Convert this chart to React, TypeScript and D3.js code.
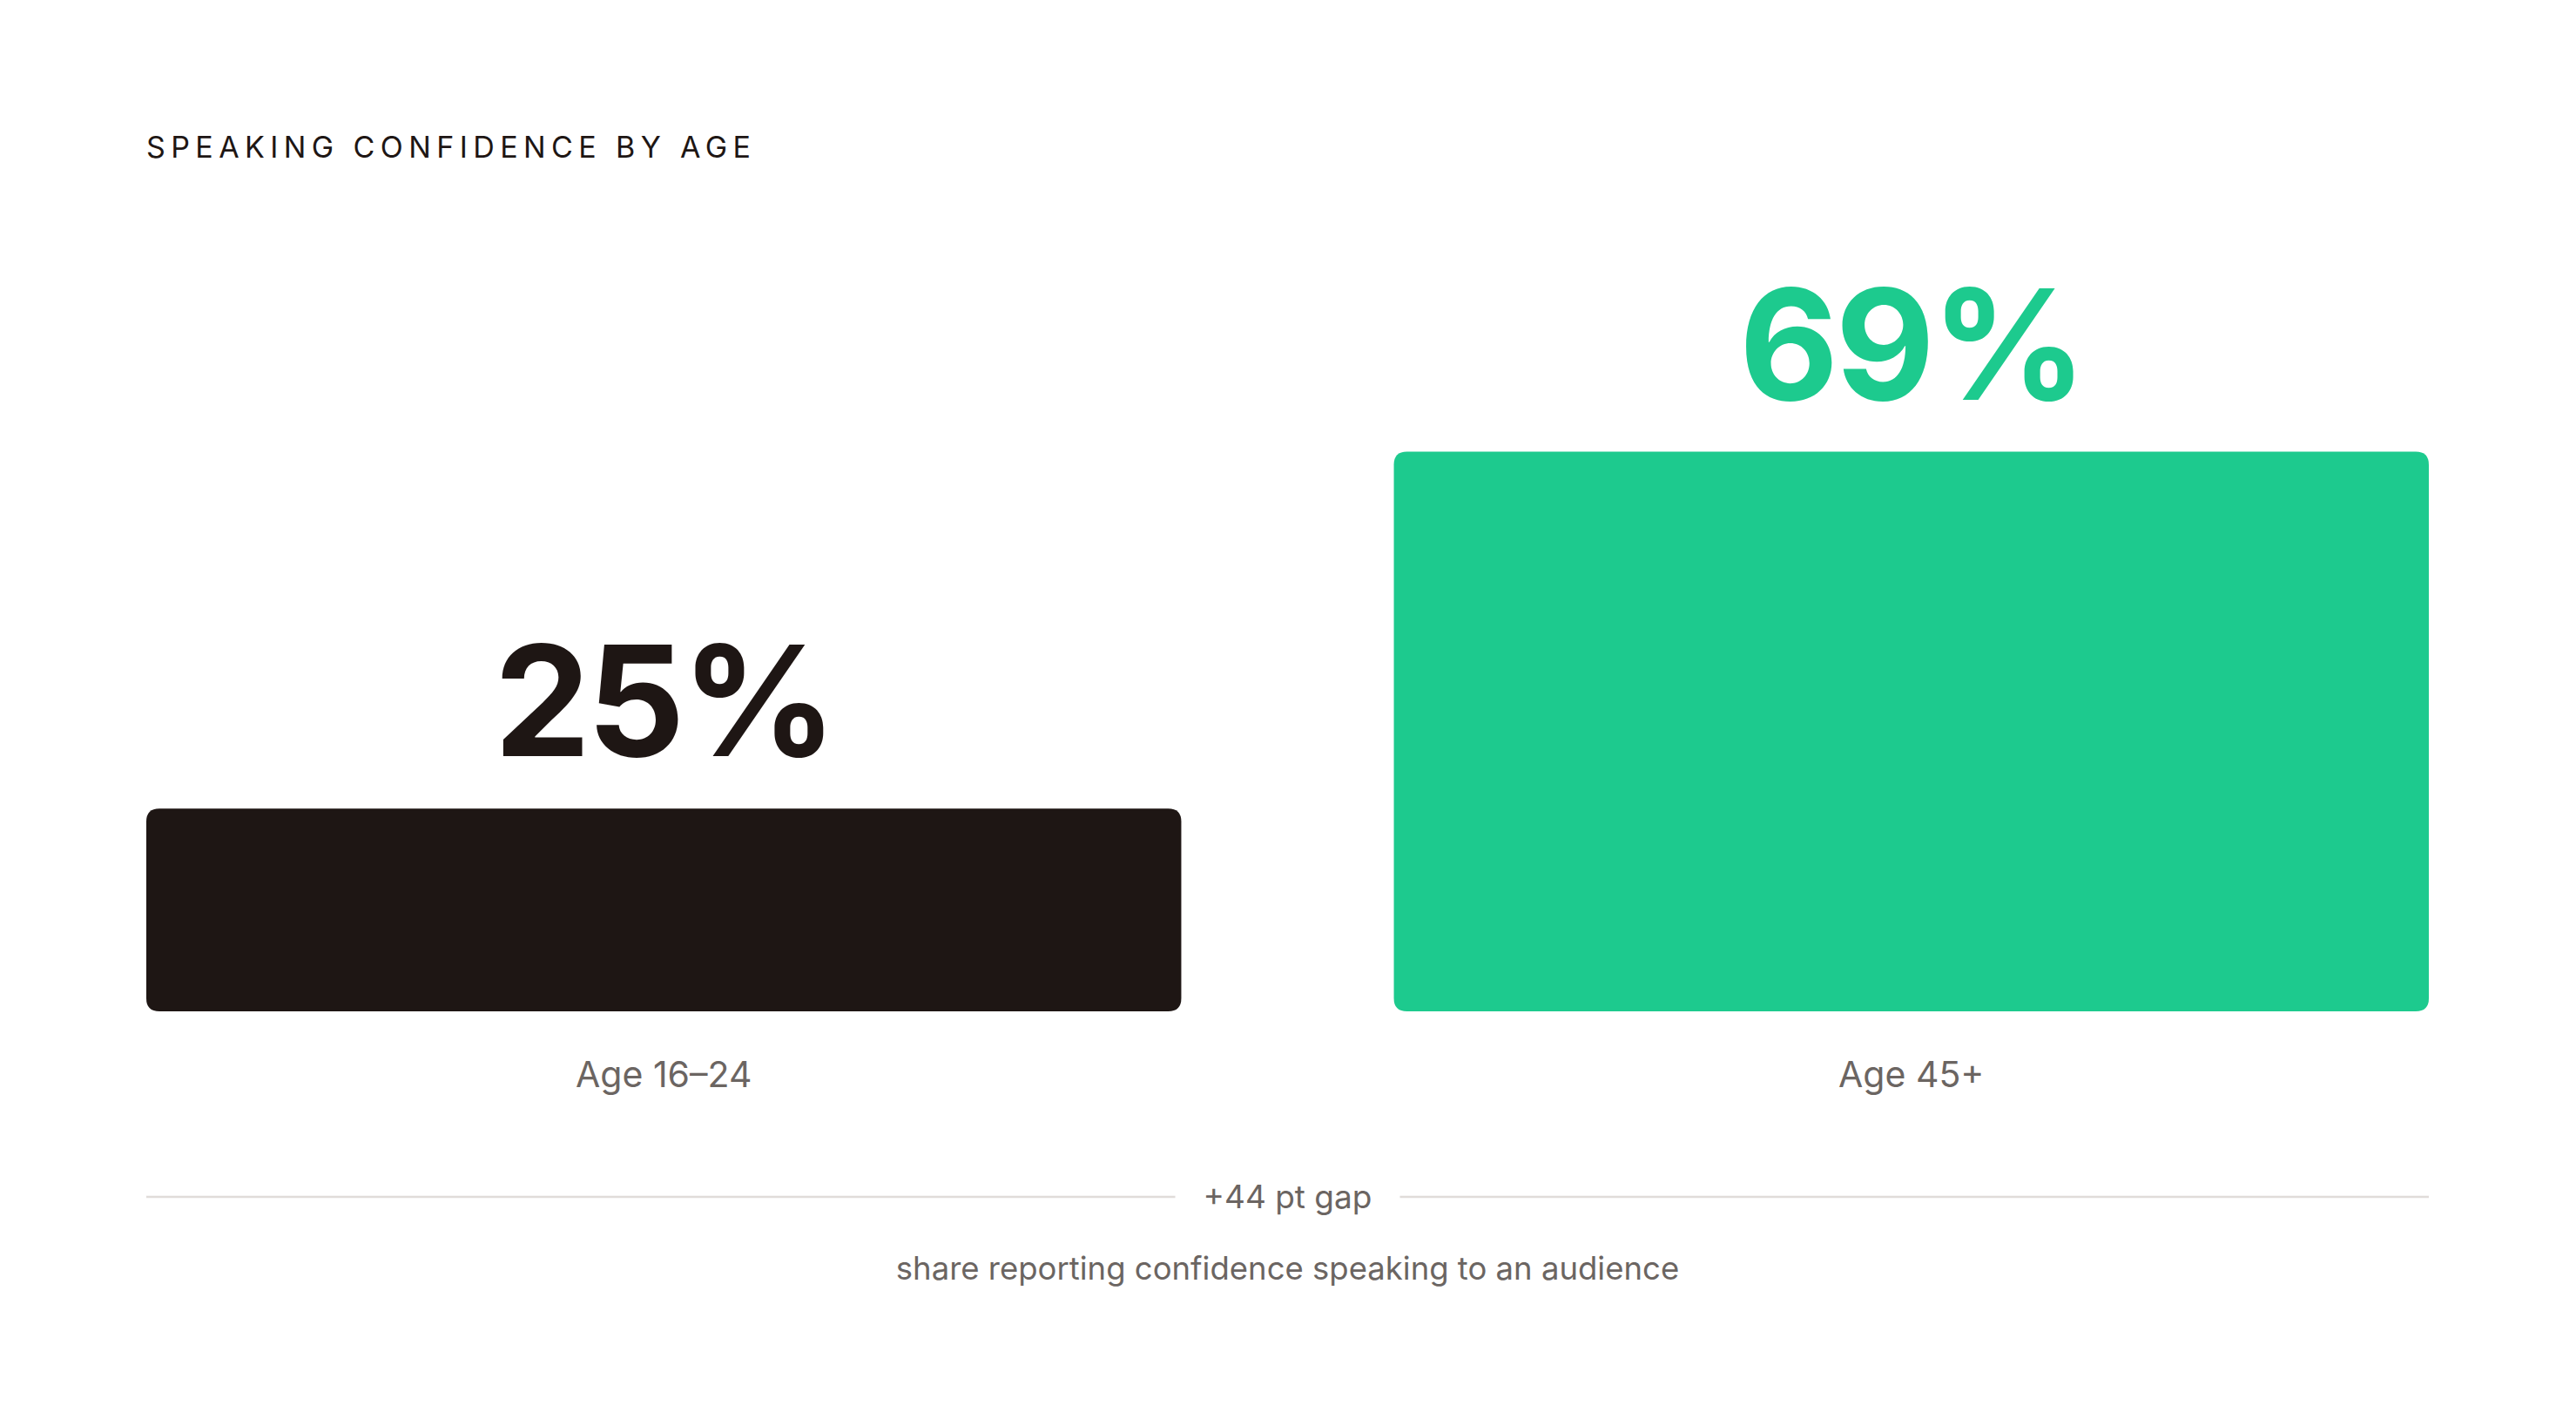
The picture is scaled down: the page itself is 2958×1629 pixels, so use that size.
import React, { useEffect, useRef } from 'react';
import * as d3 from 'd3';

const categories = ['Age 16–24', 'Age 45+'];
const values = [25, 69];
const barColors = ['#1e1614', '#1dca8e'];
const title = 'SPEAKING CONFIDENCE BY AGE';
const subtitle = 'share reporting confidence speaking to an audience';

const W = 2958;
const H = 1629;
const FONT = 'Inter, "DejaVu Sans", sans-serif';

const App: React.FC = () => {
  const svgRef = useRef<SVGSVGElement>(null);

  useEffect(() => {
    document.body.style.margin = '0';
    if (!svgRef.current) return;
    const svg = d3.select(svgRef.current);
    svg.selectAll('*').remove();

    const margin = { left: 168, right: 169 };
    const baseline = 1161;

    const x = d3
      .scaleBand<string>()
      .domain(categories)
      .range([margin.left, W - margin.right])
      .paddingInner(0.1704)
      .paddingOuter(0);

    const y = d3.scaleLinear().domain([0, 100]).range([baseline, 230]);

    // title
    svg
      .append('text')
      .attr('x', 168)
      .attr('y', 181)
      .style('font-family', FONT)
      .style('font-size', '34px')
      .style('letter-spacing', '6.4px')
      .style('fill', '#1e1614')
      .text(title);

    const data = categories.map((c, i) => ({ c, v: values[i], color: barColors[i] }));

    // bars with rounded corners
    svg
      .selectAll('path.bar')
      .data(data)
      .enter()
      .append('path')
      .attr('class', 'bar')
      .attr('d', (d) => {
        const x0 = x(d.c)!;
        const w = x.bandwidth();
        const y0 = y(d.v);
        const h = baseline - y0;
        const r = 15;
        return `M${x0},${y0 + r} Q${x0},${y0} ${x0 + r},${y0} H${x0 + w - r} Q${x0 + w},${y0} ${x0 + w},${y0 + r} V${y0 + h - r} Q${x0 + w},${y0 + h} ${x0 + w - r},${y0 + h} H${x0 + r} Q${x0},${y0 + h} ${x0},${y0 + h - r} Z`;
      })
      .style('fill', (d) => d.color);

    // value labels
    svg
      .selectAll('text.value')
      .data(data)
      .enter()
      .append('text')
      .attr('class', 'value')
      .attr('x', (d) => x(d.c)! + x.bandwidth() / 2)
      .attr('y', (d) => y(d.v) - 60)
      .attr('text-anchor', 'middle')
      .style('font-family', FONT)
      .style('font-size', '176px')
      .style('font-weight', '700')
      .style('letter-spacing', '-4px')
      .style('fill', (d) => d.color)
      .text((d) => `${d.v}%`);

    // category labels
    svg
      .selectAll('text.cat')
      .data(data)
      .enter()
      .append('text')
      .attr('class', 'cat')
      .attr('x', (d) => x(d.c)! + x.bandwidth() / 2)
      .attr('y', 1248)
      .attr('text-anchor', 'middle')
      .style('font-family', FONT)
      .style('font-size', '41px')
      .style('fill', '#6b6562')
      .text((d) => d.c);

    // gap divider
    const cx = (margin.left + W - margin.right) / 2;
    const gapY = 1374;
    const gapText = svg
      .append('text')
      .attr('x', cx)
      .attr('y', gapY + 13)
      .attr('text-anchor', 'middle')
      .style('font-family', FONT)
      .style('font-size', '37px')
      .style('fill', '#6b6562')
      .text(`+${values[1] - values[0]} pt gap`);
    const tw = (gapText.node() as SVGTextElement).getComputedTextLength();
    const pad = 32;
    [
      [margin.left, cx - tw / 2 - pad],
      [cx + tw / 2 + pad, W - margin.right],
    ].forEach(([a, b]) => {
      svg
        .append('line')
        .attr('x1', a)
        .attr('x2', b)
        .attr('y1', gapY)
        .attr('y2', gapY)
        .style('stroke', '#e0dcd9')
        .style('stroke-width', 2.5);
    });

    // footnote
    svg
      .append('text')
      .attr('x', cx)
      .attr('y', 1469)
      .attr('text-anchor', 'middle')
      .style('font-family', FONT)
      .style('font-size', '36.5px')
      .style('fill', '#6b6562')
      .text(subtitle);
  }, []);

  return <svg ref={svgRef} width={W} height={H} style={{ display: 'block', background: '#fff' }} />;
};

export default App;
